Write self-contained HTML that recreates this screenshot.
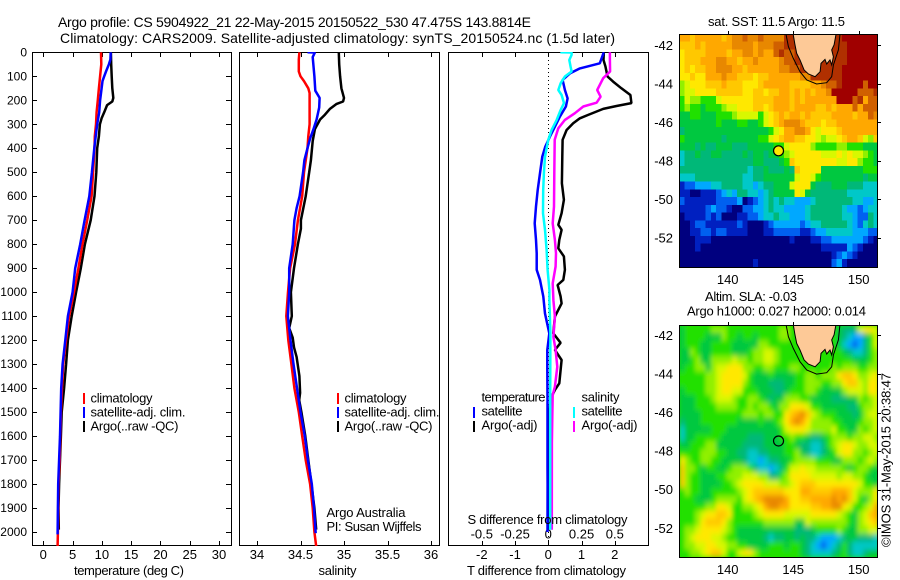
<!DOCTYPE html>
<html>
<head>
<meta charset="utf-8">
<title>Argo profile 5904922_21</title>
<style>
html,body{margin:0;padding:0;background:#fff;}
svg{display:block;}
text{font-family:"Liberation Sans",Arial,sans-serif;font-size:12px;fill:#000;}
.t14{font-size:14px;}
.t13{font-size:13px;}
</style>
</head>
<body>
<svg id="chart" xmlns="http://www.w3.org/2000/svg" width="900" height="580" viewBox="0 0 900 580">
  <defs>
    <clipPath id="clip-temp"><rect x="32" y="52" width="200" height="494"/></clipPath>
    <clipPath id="clip-sal"><rect x="239" y="52" width="201" height="494"/></clipPath>
    <clipPath id="clip-diff"><rect x="448" y="52" width="201" height="494"/></clipPath>
    <clipPath id="clip-sst"><rect x="679" y="34" width="199" height="233"/></clipPath>
    <clipPath id="clip-sla"><rect x="679" y="325" width="199" height="232"/></clipPath>
    <filter id="soften" x="-5%" y="-5%" width="110%" height="110%"><feGaussianBlur stdDeviation="2 3"/></filter>
  </defs>

  <text class="t14" x="58" y="27" textLength="473" lengthAdjust="spacing">Argo profile: CS 5904922_21 22-May-2015 20150522_530 47.475S 143.8814E</text>
  <text class="t14" x="60" y="43" textLength="555" lengthAdjust="spacing">Climatology: CARS2009. Satellite-adjusted climatology: synTS_20150524.nc (1.5d later)</text>

  <g id="layer-temp"></g>
  <g id="layer-sal"></g>
  <g id="layer-diff"></g>
  <g id="layer-sst"></g>
  <g id="layer-sla"></g>

  <text class="t13" x="74" y="575" textLength="110" lengthAdjust="spacing">temperature (deg C)</text>
  <text class="t13" x="318.5" y="575" textLength="38" lengthAdjust="spacing">salinity</text>
  <text class="t13" x="467" y="575" textLength="159" lengthAdjust="spacing">T difference from climatology</text>
  <text class="t13" x="467.5" y="524" textLength="160" lengthAdjust="spacing">S difference from climatology</text>

  <g shape-rendering="crispEdges">
    <line x1="84" x2="84" y1="393" y2="404" stroke="#ff0000" stroke-width="2"/>
    <line x1="84" x2="84" y1="407" y2="418" stroke="#0000ff" stroke-width="2"/>
    <line x1="84" x2="84" y1="421" y2="432" stroke="#000" stroke-width="2"/>
  </g>
  <text class="t13" x="90.5" y="402.5" textLength="62" lengthAdjust="spacing">climatology</text>
  <text class="t13" x="90.5" y="416.5" textLength="95" lengthAdjust="spacing">satellite-adj. clim.</text>
  <text class="t13" x="90.5" y="430.5" textLength="88" lengthAdjust="spacing">Argo(..raw -QC)</text>

  <g shape-rendering="crispEdges">
    <line x1="338" x2="338" y1="393" y2="404" stroke="#ff0000" stroke-width="2"/>
    <line x1="338" x2="338" y1="407" y2="418" stroke="#0000ff" stroke-width="2"/>
    <line x1="338" x2="338" y1="421" y2="432" stroke="#000" stroke-width="2"/>
  </g>
  <text class="t13" x="344.5" y="402.5" textLength="62" lengthAdjust="spacing">climatology</text>
  <text class="t13" x="344.5" y="416.5" textLength="95" lengthAdjust="spacing">satellite-adj. clim.</text>
  <text class="t13" x="344.5" y="430.5" textLength="88" lengthAdjust="spacing">Argo(..raw -QC)</text>

  <text class="t13" x="326.5" y="517" textLength="79" lengthAdjust="spacing">Argo Australia</text>
  <text class="t13" x="326.5" y="531" textLength="95" lengthAdjust="spacing">PI: Susan Wijffels</text>

  <g shape-rendering="crispEdges">
    <line x1="474" x2="474" y1="407" y2="418" stroke="#0000ff" stroke-width="2"/>
    <line x1="474" x2="474" y1="421" y2="432" stroke="#000" stroke-width="2"/>
    <line x1="574" x2="574" y1="407" y2="418" stroke="#00ffff" stroke-width="2"/>
    <line x1="574" x2="574" y1="421" y2="432" stroke="#ff00ff" stroke-width="2"/>
  </g>
  <text class="t13" x="481.5" y="401.5" textLength="64" lengthAdjust="spacing">temperature</text>
  <text class="t13" x="481.5" y="415.5" textLength="41" lengthAdjust="spacing">satellite</text>
  <text class="t13" x="481.5" y="429.5" textLength="56" lengthAdjust="spacing">Argo(-adj)</text>
  <text class="t13" x="581.5" y="401.5" textLength="38" lengthAdjust="spacing">salinity</text>
  <text class="t13" x="581.5" y="415.5" textLength="41" lengthAdjust="spacing">satellite</text>
  <text class="t13" x="581.5" y="429.5" textLength="56" lengthAdjust="spacing">Argo(-adj)</text>

  <text class="t13" x="708" y="26" textLength="137" lengthAdjust="spacing">sat. SST: 11.5 Argo: 11.5</text>
  <text class="t13" x="705" y="301" textLength="92" lengthAdjust="spacing">Altim. SLA: -0.03</text>
  <text class="t13" x="687" y="315.5" textLength="179" lengthAdjust="spacing">Argo h1000: 0.027 h2000: 0.014</text>
  <text class="t13" transform="translate(890.5,547) rotate(-90)" x="0" y="0" textLength="174" lengthAdjust="spacing">©IMOS 31-May-2015 20:38:47</text>
</svg>

<script>
// ---------- profile data ----------
const depthTicks = [0,100,200,300,400,500,600,700,800,900,1000,1100,1200,1300,1400,1500,1600,1700,1800,1900,2000];
const tempTicks = [0,5,10,15,20,25,30];
const salTicks = [34,34.5,35,35.5,36];
const salTickLabels = ['34','34.5','35','35.5','36'];
const diffTTicks = [-2,-1,0,1,2];
const diffSTicks = [-0.5,-0.25,0,0.25,0.5];
const diffSTickLabels = ['-0.5','-0.25','0','0.25','0.5'];

const tempClimDepth = [0,50,100,150,200,250,300,350,400,500,600,700,800,900,1000,1100,1200,1300,1400,1500,1600,1700,1800,1900,2000,2060];
const tempClimValue = [9.85,9.9,9.7,9.5,9.3,9.1,9.0,8.8,8.75,8.5,8.25,7.5,6.7,6.0,5.25,4.4,3.9,3.4,3.2,3.0,2.9,2.8,2.6,2.55,2.5,2.45];
const tempSatDepth = [0,30,50,80,100,120,150,200,250,300,350,400,500,600,700,800,900,1000,1100,1200,1300,1400,1500,1600,1700,1800,1900,2010];
const tempSatValue = [11.5,11.45,11.2,10.7,10.4,10.1,9.95,9.7,9.55,9.2,8.95,8.7,8.3,7.85,7.05,6.3,5.45,5.0,4.2,3.75,3.3,3.05,2.95,2.85,2.7,2.55,2.5,2.45];
const tempArgoDepth = [0,50,100,150,190,205,220,250,275,300,350,400,500,600,700,800,900,1000,1100,1200,1300,1400,1500,1600,1700,1800,1900,1990];
const tempArgoValue = [11.55,11.6,11.67,11.78,11.95,11.78,10.9,10.4,9.95,9.67,9.5,9.2,9.05,8.75,8.1,7.1,6.4,5.6,4.85,4.2,3.9,3.55,3.15,3.0,2.85,2.7,2.6,2.65];

const salClimDepth = [0,30,80,100,120,150,170,300,350,400,500,600,700,800,900,1000,1100,1200,1300,1400,1500,1600,1700,1800,1900,2000,2060];
const salClimValue = [34.487,34.48,34.48,34.5,34.54,34.59,34.605,34.605,34.59,34.58,34.54,34.52,34.47,34.437,34.38,34.356,34.337,34.36,34.395,34.43,34.48,34.52,34.56,34.61,34.64,34.66,34.68];
const salSatDepth = [0,1,20,100,160,190,230,280,320,360,400,450,500,600,650,700,800,900,1000,1100,1200,1300,1400,1500,1600,1700,1800,1900,2005];
const salSatValue = [34.58,34.665,34.64,34.66,34.67,34.72,34.715,34.685,34.65,34.61,34.58,34.545,34.53,34.49,34.455,34.43,34.41,34.37,34.37,34.355,34.385,34.42,34.46,34.5,34.55,34.585,34.63,34.655,34.675];
const salArgoDepth = [0,50,100,150,190,205,215,235,260,280,320,370,450,500,600,700,735,800,900,1000,1100,1150,1190,1230,1270,1350,1420,1450,1500,1600,1700,1800,1900,1990];
const salArgoValue = [34.94,34.945,34.955,34.97,35.0,34.99,34.915,34.84,34.78,34.725,34.665,34.64,34.62,34.6,34.56,34.505,34.505,34.47,34.425,34.39,34.4,34.37,34.41,34.425,34.455,34.487,34.495,34.485,34.51,34.555,34.59,34.625,34.66,34.68];

const diffTSatDepth = [0,46,67,88,115,157,192,226,268,310,351,393,435,504,574,643,713,782,838,907,949,1018,1089,1172,1241,1311,1450,1727,1800,2000];
const diffTSatValue = [1.67,1.55,0.95,0.65,0.43,0.5,0.58,0.53,0.35,0.2,0.05,-0.09,-0.18,-0.25,-0.32,-0.37,-0.41,-0.37,-0.35,-0.35,-0.25,-0.15,-0.1,0.03,-0.03,-0.03,-0.024,-0.024,-0.02,-0.024];
const diffTArgoDepth = [0,32,60,101,122,150,178,212,224,236,261,275,296,324,365,435,546,615,671,719,740,782,817,851,907,949,970,1018,1047,1102,1172,1211,1241,1283,1380,1408,1436,1470,1600,1730,1990];
const diffTArgoValue = [1.67,1.66,1.72,1.78,1.95,2.2,2.47,2.5,2.05,1.65,1.2,0.95,0.75,0.55,0.43,0.42,0.41,0.47,0.4,0.3,0.4,0.33,0.3,0.47,0.5,0.45,0.28,0.37,0.4,0.2,0.15,0.37,0.2,0.4,0.33,0.2,0.1,0.05,0,0.02,0];
const diffSSatDepth = [0,1,11,32,60,80,101,129,157,178,212,240,282,324,365,435,504,574,671,740,824,907,990,1033,1172,1450,1991];
const diffSSatValue = [0.09,0.175,0.175,0.158,0.168,0.175,0.125,0.093,0.075,0.1,0.118,0.093,0.063,0.025,0,-0.025,-0.033,-0.038,-0.04,-0.025,-0.013,-0.005,0.008,0.008,0.016,0.014,0.014];
const diffSArgoDepth = [0,32,80,108,157,185,210,226,254,282,317,365,504,643,713,782,838,893,963,1033,1102,1186,1241,1311,1394,1429,1519,1630,1991];
const diffSArgoValue = [0.463,0.463,0.465,0.413,0.368,0.393,0.363,0.263,0.2,0.125,0.075,0.048,0.045,0.043,0.033,0.05,0.058,0.055,0.033,0.038,0.05,0.038,0.055,0.068,0.05,0.033,0.03,0.027,0.026];

// ---------- map data ----------
const mapTicksLon = [140,145,150];
const mapTicksLat = [42,44,46,48,50,52];
const palette = {a:'#00007f',b:'#0020c0',c:'#0060f0',d:'#00a8ff',e:'#00c8c8',f:'#00b878',g:'#00c840',h:'#20e000',i:'#90f000',j:'#d8f800',k:'#ffe800',l:'#ffc800',m:'#ffa800',n:'#e88800',o:'#d06000',p:'#b03000',q:'#a00000'};
const sstRows = [
"mmlmmmmmlmnnonnonnnnpppppppppppqqqqqqq",
"lllmlmmmmmnnnnmnnnooppppppppppppqqqqqq",
"kllllmmmmlmmnnmnmmopooppppppppppqqqqqq",
"klllmmmnnmmlmmnmmmmnooppppppppppqqqqqq",
"klkllmmnnnmmlmmmmmmnnooppppppppqqqqqqq",
"kklkkmmmnmmlllkllmmmmmmnnppppppqqqqqqq",
"ijkkklllmlllkkklmmmmmllllmmnoopqqqqoqq",
"ijjkkkklllllkkllkllmmlmlmlmmnqqqqqooop",
"hjiihhhjkkkkkkllllmmmlmlmmmmmmqqqopmoo",
"hihhghhhijjkkkllklmmmlmmmmllmlmmmomooo",
"gghhggghhhijjjjhjklmlmmlmllllmmmmlmmon",
"ggggggghggghhgghjklmnnnmlllkllmmmmmmmm",
"fgggggggggggggggghjkmmnnmkjkkklmmmmmmm",
"hgggggggfgggggghhjklmmllkkjijjklmmljil",
"gggfgffgggfffggggghhjkkkkihhhhiihhhggg",
"effgffggffffgfggfgghijkkkkkjjjkjkjjihg",
"efffffffffffffggfffghlkkkkkkkkjjkkihhg",
"fffffffffffffeffgfffgflkkkkgggggggghhh",
"eeefffffffffeeffggggggjkkjhggggggggfgg",
"bccdddeeffffeedeffgggjkkkgfffgggfffeee",
"bbaabbbcdedffeedefggggkjgfffffffeeeeee",
"cbbbbbbccccdabcdefefeedddefffffffeedde",
"bbbbbcdccbaaccddefeeddddeffffffeddcdee",
"abbbbcbcaaabbccdeefeedddeffffffeedccfe",
"aabccbbbbbbcbaaabcdddddcdeefffffedcefe",
"aabbccbccbbbbaaabbcccccbbcddeeeeedddcc",
"aaabbbaaaaaaaaaaaaaaabaaabbccddddddcba",
"aaabaaaaaaaaaaaaaaaaaaaaaaabbbbbdcbaaa",
"aaaaaaaaaaaaaaaaaaaaaaaaaaaaabcdcbaaaa",
"aaaaaaaaaaaaaabaaaaaaaaaaaaaacdbaaaaaa"];
const slaRows = [
"ghhhhhiiihhhhhhhhhhiihhhhhhhhhgfffjkkj",
"ghhhhgggihhghhghhhhiihhhhhhhhhgfeddfhj",
"ghhhgghhhhgggggiihhhhhhhhhhhhhgedcdfhj",
"ggihgghhhhggghiijjihhhhhhhhhhhhgfeefhi",
"gghiggiiiijiihiijjihhhhhhhhhhhhhhggghi",
"ghhiigijjkkkiihhiihhhiihhhhhhihiiihhii",
"hhhhhiijkkkkjhggghgggghhiihiiikllkiijk",
"hhhhhiijkkkkihgggfffgghhiiihhiiklljikk",
"ghhhhiijkkjjhhhgggffghhhiihggggijjjikk",
"ggghhhijjjihhiihgfggiiihhggggfffggihij",
"ggghhhhiiiihhihiihgiikkkjhhgggggffhiij",
"gggghhhhhhhhiiihiihhklmnljihhhgggfgijj",
"fggghhhhhhhgggghgghikmnmkiiiihhggghiij",
"eggggghhhgggggggggghjkkkjiiiijhhggihij",
"egghhhhhgggggfffggghhihhgffghiiihiijji",
"gghhhiigggggffffgggghhgffeefhijkkjiijj",
"hhhhiiihhggffeeffggghhigfeefghjkkiihij",
"kihhiihhggggfeedeffgghiiiihhhggiiihiji",
"liihghhgghiiihfeedefhjjkjjiiiiihghiihg",
"lihhggghhiiijjjiiffhikkkkjjjjjijjiihgg",
"lihhgggghhijkkkkjjjiijklllkkkkkkkkjhhg",
"hihhgghhhhhijkllllllkkkmmllllmmmljiiik",
"hhhggghiiiihjklmnnnnmkkllmmmmnmnljhgik",
"hhhhhiikkjhhiijkmnnmmkkkkllmmnnkjhhijm",
"hhhijkkllkhhhhijkkkkjjjjjkkkkkjihgijlm",
"hhhiklllkihhhhhhiiiiiiggjiiiiiiihgijkl",
"hiijkkkkjihgggggggggggfffghhhhihggiijj",
"hijkkkjjihhgggggfeffggfgffedddefggfffe",
"hiijjkkjjiihhgggghhhghhgfedcdefhfeeeee",
"hhiijklljhhjkkihhhhhhhhgfeeeefghfeefgg"];
const landLon = [144.89,145.14,145.27,145.52,145.83,146.16,146.67,147.05,147.12,147.43,147.56,147.81,147.94,148.07,147.94,148.12,148.27,148.4];
const landLat = [41.0,41.98,42.42,42.76,43.28,43.49,43.63,43.37,42.94,42.73,42.97,42.76,43.02,42.59,42.24,41.98,41.43,41.0];
const coastLon = [144.33,144.63,145.01,145.52,146.03,146.79,147.56,147.94,148.07,148.45,148.63];
const coastLat = [41.0,42.07,42.68,43.37,43.8,44.01,43.94,43.63,43.02,42.24,41.0];
const floatLon = 143.88;
const floatLat = 47.475;

// ---------- axis functions ----------
const SVGNS = 'http://www.w3.org/2000/svg';
const yDepth = d => 52.3 + d * 0.23985;
const xTemp = v => 43.3 + v * 5.857;
const xSal = v => 257 + (v - 34) * 87;
const xDiffT = v => 548.3 + v * 33.25;
const xDiffS = v => 548.3 + v * 133;
const xLon = lon => 727.7 + (lon - 140) * 13.1;
const ySst = lat => 45.3 + (lat - 42) * 19.27;
const ySla = lat => 335.3 + (lat - 42) * 19.3;

function make(parent, tag, attrs, txt){
  const e = document.createElementNS(SVGNS, tag);
  for (const k in attrs) e.setAttribute(k, attrs[k]);
  if (txt !== undefined) e.textContent = txt;
  parent.appendChild(e);
  return e;
}
function pointsOf(xs, ys, fx, fy){
  return xs.map((d, i) => fx(ys[i]).toFixed(1) + ',' + fy(d).toFixed(1)).join(' ');
}
function drawLine(parent, clip, depth, vals, fx, colour, name){
  const p = make(parent, 'polyline', {points: pointsOf(depth, vals, fx, yDepth), fill:'none', stroke:colour, 'stroke-width':2.5, 'stroke-linejoin':'bevel', 'clip-path':'url(#'+clip+')'});
  
  
}
function panelFrame(parent, x, w){
  const r = make(parent, 'rect', {x:x+0.5, y:52.5, width:w, height:493, fill:'#fff', stroke:'#000', 'stroke-width':1, 'shape-rendering':'crispEdges'});
  
  
}
function xTicks(parent, vals, fx){
  vals.forEach(v => {
    const x = Math.round(fx(v)) + 0.5;
    const t1 = make(parent, 'line', {x1:x, x2:x, y1:52, y2:57, stroke:'#000', 'stroke-width':1, 'shape-rendering':'crispEdges'});
    
    
    const t2 = make(parent, 'line', {x1:x, x2:x, y1:541, y2:546, stroke:'#000', 'stroke-width':1, 'shape-rendering':'crispEdges'});
    
    
  });
}
function xLabels(parent, vals, labels, fx, y){
  vals.forEach((v, i) => {
    const t = make(parent, 'text', {x:fx(v), y:y, 'text-anchor':'middle', 'class':'t13'}, labels[i]);
    
    
  });
}

// ---------- temperature panel ----------
const gT = document.getElementById('layer-temp');
panelFrame(gT, 32, 199);
xTicks(gT, tempTicks, xTemp);
xLabels(gT, tempTicks, tempTicks.map(String), xTemp, 559);
depthTicks.forEach(d => {
  const y = Math.round(yDepth(d)) + 0.5;
  const tl = make(gT, 'line', {x1:32, x2:37, y1:y, y2:y, stroke:'#000', 'shape-rendering':'crispEdges'});
  
  
  const tr = make(gT, 'line', {x1:226, x2:231, y1:y, y2:y, stroke:'#000', 'shape-rendering':'crispEdges'});
  
  
  const lab = make(gT, 'text', {x:27, y:yDepth(d)+4, 'text-anchor':'end'}, String(d));
  
  
});
drawLine(gT, 'clip-temp', tempArgoDepth, tempArgoValue, xTemp, '#000', 'temperature-argo-line');
drawLine(gT, 'clip-temp', tempClimDepth, tempClimValue, xTemp, '#ff0000', 'temperature-climatology-line');
drawLine(gT, 'clip-temp', tempSatDepth, tempSatValue, xTemp, '#0000ff', 'temperature-satellite-line');

// ---------- salinity panel ----------
const gS = document.getElementById('layer-sal');
panelFrame(gS, 239, 200);
xTicks(gS, salTicks, xSal);
xLabels(gS, salTicks, salTickLabels, xSal, 559);
drawLine(gS, 'clip-sal', salArgoDepth, salArgoValue, xSal, '#000', 'salinity-argo-line');
drawLine(gS, 'clip-sal', salClimDepth, salClimValue, xSal, '#ff0000', 'salinity-climatology-line');
drawLine(gS, 'clip-sal', salSatDepth, salSatValue, xSal, '#0000ff', 'salinity-satellite-line');

// ---------- difference panel ----------
const gD = document.getElementById('layer-diff');
panelFrame(gD, 448, 200);
xTicks(gD, diffTTicks, xDiffT);
xLabels(gD, diffTTicks, diffTTicks.map(String), xDiffT, 559);
xLabels(gD, diffSTicks, diffSTickLabels, xDiffS, 538.5);
const zeroLine = make(gD, 'line', {x1:548.5, x2:548.5, y1:52, y2:546, stroke:'#000', 'stroke-width':1, 'stroke-dasharray':'1 3', 'shape-rendering':'crispEdges'});


drawLine(gD, 'clip-diff', diffTArgoDepth, diffTArgoValue, xDiffT, '#000', 't-difference-argo-line');
drawLine(gD, 'clip-diff', diffSArgoDepth, diffSArgoValue, xDiffS, '#ff00ff', 's-difference-argo-line');
drawLine(gD, 'clip-diff', diffTSatDepth, diffTSatValue, xDiffT, '#0000ff', 't-difference-satellite-line');
drawLine(gD, 'clip-diff', diffSSatDepth, diffSSatValue, xDiffS, '#00ffff', 's-difference-satellite-line');

// ---------- maps ----------
function drawMap(group, rows, clip, fy, topLat, bottomLat, markerFill, top, bottom, labelY, cellName, soften){
  const nRows = rows.length, nCols = 38;
  const lonA = 136.31, lonB = 151.52;
  const dLon = (lonB - lonA) / nCols, dLat = (bottomLat - topLat) / nRows;
  const clipGroup = make(group, 'g', {'clip-path':'url(#'+clip+')'});
  
  
  if (soften){
    const base = make(clipGroup, 'rect', {x:679, y:top, width:199, height:bottom-top, fill:palette.h});
    
    
  }
  const cells = make(clipGroup, 'g', {'shape-rendering':'crispEdges'});
  if (soften) cells.setAttribute('filter', 'url(#soften)');
  
  
  for (let r = 0; r < nRows; r++){
    for (let c = 0; c < nCols; c++){
      const code = rows[r][c] || rows[r][rows[r].length - 1];
      const x0 = xLon(lonA + c * dLon), x1 = xLon(lonA + (c + 1) * dLon);
      const y0 = fy(topLat + r * dLat), y1 = fy(topLat + (r + 1) * dLat);
      const cell = make(cells, 'rect', {x:x0.toFixed(2), y:y0.toFixed(2), width:(x1-x0+0.5).toFixed(2), height:(y1-y0+0.5).toFixed(2), fill:palette[code]});
      
      
    }
  }
  const land = make(group, 'polygon', {points: landLon.map((v,i)=>xLon(v).toFixed(1)+','+fy(landLat[i]).toFixed(1)).join(' '), fill:'#fdc997', stroke:'#000', 'stroke-width':1, 'clip-path':'url(#'+clip+')'});
  
  
  const coast = make(group, 'polyline', {points: coastLon.map((v,i)=>xLon(v).toFixed(1)+','+fy(coastLat[i]).toFixed(1)).join(' '), fill:'none', stroke:'#000', 'stroke-width':1, 'clip-path':'url(#'+clip+')'});
  
  
  const frame = make(group, 'rect', {x:679.5, y:top+0.5, width:198, height:bottom-top, fill:'none', stroke:'#000', 'stroke-width':1, 'shape-rendering':'crispEdges'});
  
  
  const marker = make(group, 'circle', {cx:xLon(floatLon), cy:fy(floatLat), r:5, fill:markerFill, stroke:'#000', 'stroke-width':1.2});
  
  
  mapTicksLon.forEach(lon => {
    const x = Math.round(xLon(lon)) + 0.5;
    const tick = make(group, 'line', {x1:x, x2:x, y1:top-3, y2:top, stroke:'#000', 'shape-rendering':'crispEdges'});
    
    
    const lab = make(group, 'text', {x:xLon(lon), y:labelY, 'text-anchor':'middle', 'class':'t13'}, String(lon));
    
    
  });
  mapTicksLat.forEach(lat => {
    const y = Math.round(fy(lat)) + 0.5;
    const tick = make(group, 'line', {x1:878, x2:881, y1:y, y2:y, stroke:'#000', 'shape-rendering':'crispEdges'});
    
    
    const lab = make(group, 'text', {x:673, y:fy(lat)+4.5, 'text-anchor':'end', 'class':'t13'}, '-' + lat);
    
    
  });
}
drawMap(document.getElementById('layer-sst'), sstRows, 'clip-sst', ySst, 41.41, 53.5, '#ffe800', 34, 267, 284, 'sst-cell', false);
drawMap(document.getElementById('layer-sla'), slaRows, 'clip-sla', ySla, 41.48, 53.49, 'none', 325, 557, 574, 'sla-cell', true);
</script>
</body>
</html>
